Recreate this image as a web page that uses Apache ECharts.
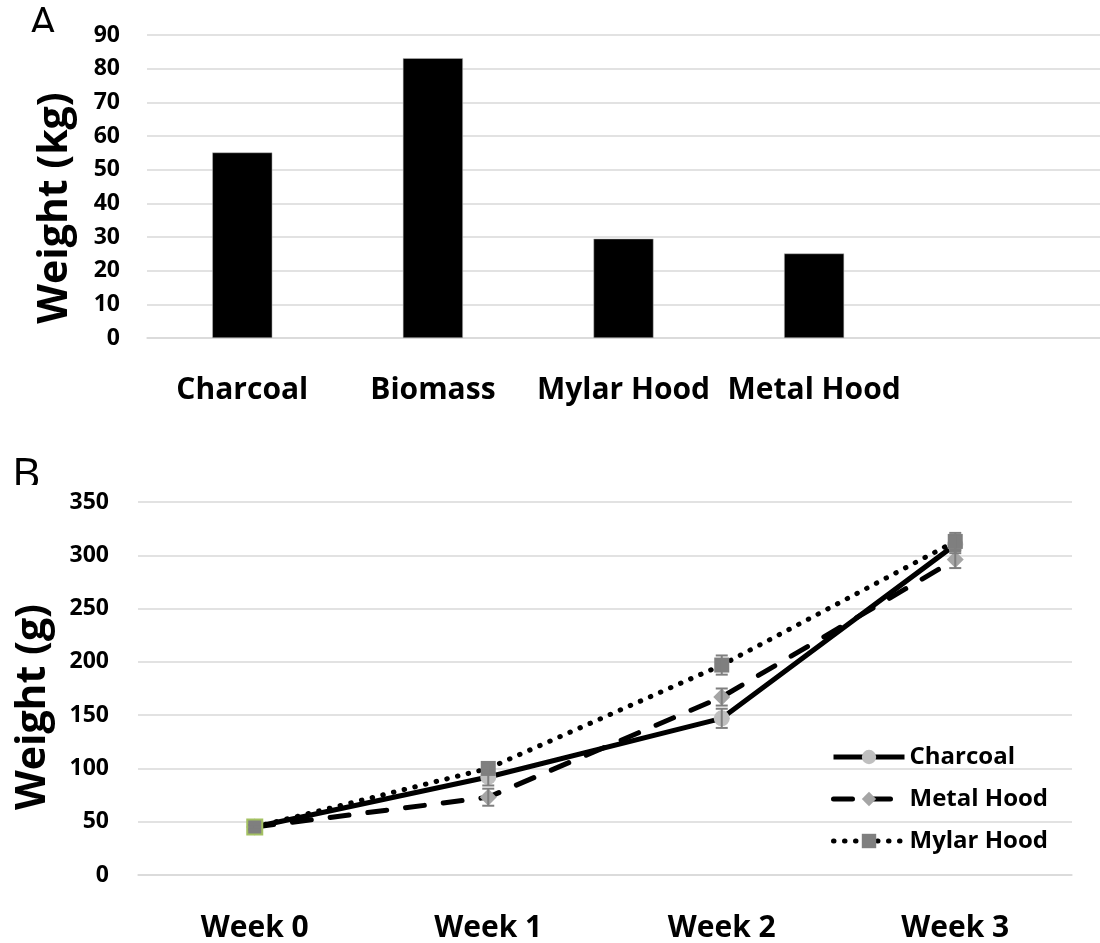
<!DOCTYPE html>
<html>
<head>
<meta charset="utf-8">
<script src="https://cdn.jsdelivr.net/npm/echarts@6/dist/echarts.min.js"></script>
<style>
html,body{margin:0;padding:0;background:#fff;}
#chart{width:1100px;height:943px;}
</style>
</head>
<body>
<div id="chart"></div>
<script>
// ---- Panel A data ----
var barCategories = ['Charcoal', 'Biomass', 'Mylar Hood', 'Metal Hood', ''];
var barValues = [55.1, 83.1, 29.5, 25.1, null];
var barTicks = [0, 10, 20, 30, 40, 50, 60, 70, 80, 90];

// ---- Panel B data ----
var weeks = ['Week 0', 'Week 1', 'Week 2', 'Week 3'];
var charcoal = [45, 92, 147, 310];
var metalHood = [45, 73, 167, 296];
var mylarHood = [45, 100, 197, 313];
var charcoalErr = [2, 8, 9, 8];
var metalHoodErr = [2, 8, 8, 8];
var mylarHoodErr = [2, 4, 9, 8];
var lineTicks = [0, 50, 100, 150, 200, 250, 300, 350];

var FONT = '"Open Sans"';
var chart = echarts.init(document.getElementById('chart'), null, {renderer: 'canvas'});

function errData(vals, errs) {
  return vals.map(function (v, i) { return [i, v - errs[i], v + errs[i]]; });
}
function errSeries(vals, errs) {
  return {
    type: 'custom',
    xAxisIndex: 1, yAxisIndex: 1,
    z: 3,
    silent: true,
    data: errData(vals, errs),
    renderItem: function (params, api) {
      var x = api.value(0);
      var lo = api.coord([x, api.value(1)]);
      var hi = api.coord([x, api.value(2)]);
      var cw = 6;
      var st = {stroke: '#7f7f7f', lineWidth: 2};
      return {
        type: 'group',
        children: [
          {type: 'line', shape: {x1: lo[0], y1: lo[1], x2: hi[0], y2: hi[1]}, style: st},
          {type: 'line', shape: {x1: lo[0] - cw, y1: lo[1], x2: lo[0] + cw, y2: lo[1]}, style: st},
          {type: 'line', shape: {x1: hi[0] - cw, y1: hi[1], x2: hi[0] + cw, y2: hi[1]}, style: st}
        ]
      };
    }
  };
}

var gridLine = {show: true, lineStyle: {color: '#d9d9d9', width: 1.5}};

var option = {
  animation: false,
  backgroundColor: '#ffffff',
  textStyle: {fontFamily: FONT},
  grid: [
    {left: 147, right: -12, top: 35, bottom: 605, containLabel: false},
    {left: 138, right: 28, top: 502, bottom: 64, containLabel: false}
  ],
  xAxis: [
    {
      gridIndex: 0, type: 'category', data: barCategories,
      axisLine: {show: true, lineStyle: {color: '#d9d9d9', width: 1.5}},
      axisTick: {show: false},
      axisLabel: {interval: 0, color: '#000', fontFamily: FONT, fontWeight: 'bold', fontSize: 30, margin: 37}
    },
    {
      gridIndex: 1, type: 'category', data: weeks,
      axisLine: {show: true, lineStyle: {color: '#d9d9d9', width: 1.5}},
      axisTick: {show: false},
      axisLabel: {interval: 0, color: '#000', fontFamily: FONT, fontWeight: 'bold', fontSize: 30, margin: 38}
    }
  ],
  yAxis: [
    {
      gridIndex: 0, type: 'value', min: barTicks[0], max: barTicks[barTicks.length - 1], interval: 10,
      axisLine: {show: false}, axisTick: {show: false},
      splitLine: gridLine,
      axisLabel: {color: '#000', fontFamily: FONT, fontWeight: 'bold', fontSize: 23, margin: 27}
    },
    {
      gridIndex: 1, type: 'value', min: lineTicks[0], max: lineTicks[lineTicks.length - 1], interval: 50,
      axisLine: {show: false}, axisTick: {show: false},
      splitLine: gridLine,
      axisLabel: {color: '#000', fontFamily: FONT, fontWeight: 'bold', fontSize: 23, margin: 29}
    }
  ],
  legend: {
    data: ['Charcoal', 'Metal Hood', 'Mylar Hood'],
    orient: 'vertical',
    left: 826, top: 740,
    itemWidth: 71, itemHeight: 18, itemGap: 18,
    lineStyle: {width: 5},
    textStyle: {color: '#000', fontFamily: FONT, fontWeight: 'bold', fontSize: 24, lineHeight: 24}
  },
  series: [
    {
      type: 'bar', name: 'bars', xAxisIndex: 0, yAxisIndex: 0,
      data: barValues, barWidth: 60,
      itemStyle: {color: '#000000', borderColor: '#bfbfbf', borderWidth: 0.5}
    },
    {
      type: 'line', name: 'Charcoal', xAxisIndex: 1, yAxisIndex: 1, data: charcoal,
      z: 2,
      symbol: 'circle', symbolSize: 16,
      lineStyle: {color: '#000', width: 5, type: 'solid'},
      itemStyle: {color: '#bfbfbf', borderWidth: 0}
    },
    {
      type: 'line', name: 'Metal Hood', xAxisIndex: 1, yAxisIndex: 1, data: metalHood,
      z: 2,
      symbol: 'diamond', symbolSize: 17,
      lineStyle: {color: '#000', width: 5, type: [19, 19], cap: 'round'},
      itemStyle: {color: '#a5a5a5', borderWidth: 0}
    },
    {
      type: 'line', name: 'Mylar Hood', xAxisIndex: 1, yAxisIndex: 1,
      data: mylarHood.map(function (v, i) {
        return i === 0 ? {value: v, itemStyle: {borderColor: '#a4c162', borderWidth: 2}} : v;
      }),
      z: 2,
      symbol: 'rect', symbolSize: 15,
      lineStyle: {color: '#000', width: 5, type: [0.5, 10.5], cap: 'round'},
      itemStyle: {color: '#7f7f7f', borderWidth: 0}
    },
    errSeries(charcoal, charcoalErr),
    errSeries(metalHood, metalHoodErr),
    errSeries(mylarHood, mylarHoodErr)
  ],
  graphic: [
    {type: 'text', left: 29, top: 3, z: 10, style: {text: 'A', font: '44px "Open Sans"', fill: '#000'}},
    {type: 'rect', left: 20, top: 32, z: 11, shape: {width: 50, height: 30}, style: {fill: '#fff'}},
    {type: 'text', left: 12, top: 454, z: 10, style: {text: 'B', font: '44px "Open Sans"', fill: '#000'}},
    {type: 'rect', left: 5, top: 485, z: 11, shape: {width: 50, height: 14}, style: {fill: '#fff'}},
    {type: 'text', x: 55, y: 208, rotation: Math.PI / 2, z: 10,
      style: {text: 'Weight (kg)', font: 'bold 41px "Open Sans"', fill: '#000', textAlign: 'center', textVerticalAlign: 'middle'}},
    {type: 'text', x: 33, y: 707, rotation: Math.PI / 2, z: 10,
      style: {text: 'Weight (g)', font: 'bold 41px "Open Sans"', fill: '#000', textAlign: 'center', textVerticalAlign: 'middle'}}
  ]
};
chart.setOption(option);
</script>
</body>
</html>
